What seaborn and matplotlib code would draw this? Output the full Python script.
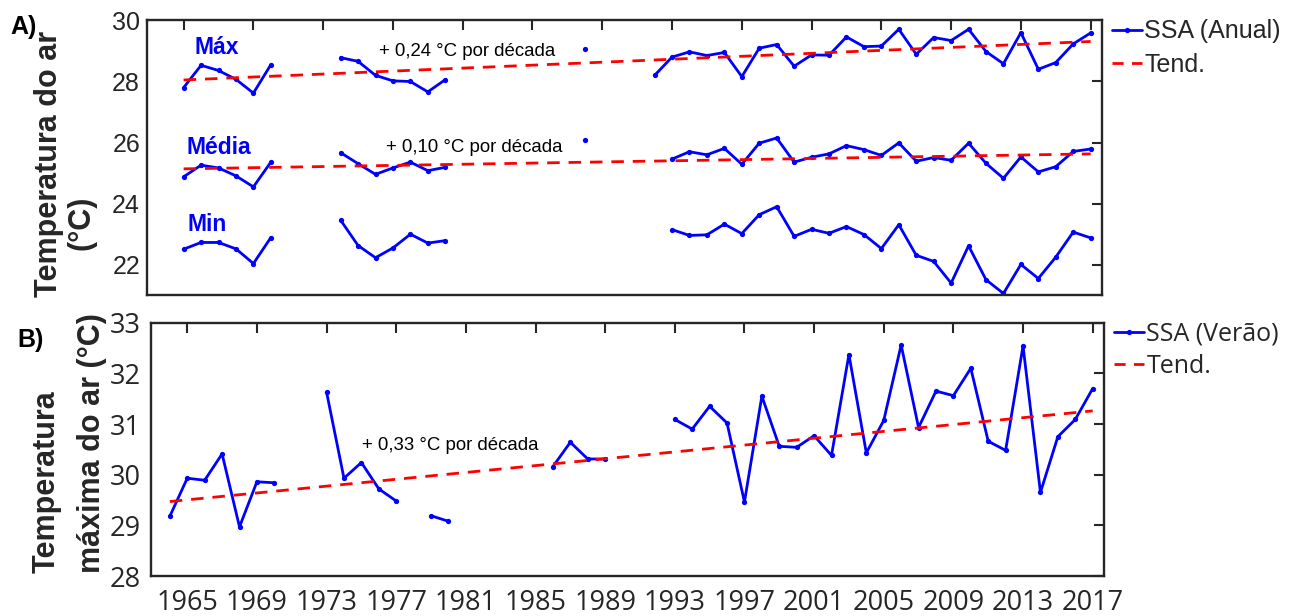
import numpy as np
import pandas as pd
import matplotlib
matplotlib.use("Agg")
import matplotlib.pyplot as plt
from matplotlib.lines import Line2D
import seaborn as sns

nan = np.nan

# ---------------- Data ----------------
years_a = list(range(1965, 2018))
max_anual = [27.80, 28.53, 28.36, 28.07, 27.62, 28.55, nan, nan, nan,
             28.78, 28.66, 28.20, 28.02, 28.00, 27.66, 28.06,
             nan, nan, nan, nan, nan, nan, nan, 29.06, nan, nan, nan,
             28.20, 28.80, 28.97, 28.85, 28.95, 28.16, 29.09, 29.21, 28.50,
             28.87, 28.86, 29.46, 29.14, 29.16, 29.71, 28.89, 29.44, 29.34,
             29.71, 28.98, 28.58, 29.60, 28.40, 28.62, 29.23, 29.59]
med_anual = [24.88, 25.26, 25.17, 24.91, 24.55, 25.36, nan, nan, nan,
             25.67, 25.31, 24.96, 25.17, 25.36, 25.08, 25.19,
             nan, nan, nan, nan, nan, nan, nan, 26.09, nan, nan, nan,
             nan, 25.46, 25.70, 25.60, 25.81, 25.29, 25.98, 26.15, 25.36,
             25.52, 25.63, 25.90, 25.77, 25.58, 25.99, 25.39, 25.51, 25.42,
             25.98, 25.32, 24.83, 25.53, 25.04, 25.21, 25.71, 25.79]
min_anual = [22.51, 22.73, 22.73, 22.52, 22.04, 22.89, nan, nan, nan,
             23.46, 22.63, 22.23, 22.55, 23.00, 22.71, 22.79,
             nan, nan, nan, nan, nan, nan, nan, nan, nan, nan, nan,
             nan, 23.15, 22.96, 22.98, 23.33, 23.02, 23.64, 23.90, 22.93,
             23.16, 23.03, 23.25, 22.99, 22.53, 23.31, 22.31, 22.11, 21.40,
             22.62, 21.51, 21.06, 22.01, 21.55, 22.25, 23.07, 22.88]

years_b = list(range(1964, 2018))
max_verao = [29.18, 29.93, 29.89, 30.41, 28.97, 29.86, 29.84, nan, nan,
             31.63, 29.93, 30.24, 29.72, 29.48, nan, 29.19, 29.08,
             nan, nan, nan, nan, nan, 30.16, 30.64, 30.31, 30.31,
             nan, nan, nan,
             31.09, 30.90, 31.35, 31.02, 29.46, 31.55, 30.56, 30.54, 30.77,
             30.38, 32.37, 30.43, 31.07, 32.56, 30.93, 31.65, 31.56, 32.10,
             30.66, 30.48, 32.54, 29.65, 30.75, 31.09, 31.70]

trend_years_a = [1965, 2017]
trend_max_a = [28.05, 29.31]
trend_med_a = [25.14, 25.63]
trend_years_b = [1964, 2017]
trend_b = [29.47, 31.26]

series_labels = ["Máx", "Média", "Min"]
trend_texts_a = ["+ 0,24 °C por década", "+ 0,10 °C por década"]
trend_text_b = "+ 0,33 °C por década"
legend_a = ["SSA (Anual)", "Tend."]
legend_b = ["SSA (Verão)", "Tend."]
xticks = list(range(1965, 2018, 4))

# ---------------- Style ----------------
sns.set_style("white")
plt.rcParams["font.family"] = ["Liberation Sans", "DejaVu Sans"]

BLUE = "#0000FF"
RED = "#FF0000"
DARK = "#262626"
W, H = 1294, 616

fig = plt.figure(figsize=(W / 100, H / 100), dpi=100)
ax1 = fig.add_axes([147 / W, 1 - 295.3 / H, (1102 - 147) / W, (295.3 - 20.4) / H])
ax2 = fig.add_axes([150.7 / W, 1 - 576 / H, (1104 - 150.7) / W, (576 - 322.7) / H])


def to_df(years, vals):
    df = pd.DataFrame({"year": years, "val": vals})
    df["seg"] = df["val"].isna().cumsum()
    return df.dropna()


line_kw = dict(color=BLUE, lw=2.0, marker="o", markersize=3.8,
               markeredgewidth=0, estimator=None, units="seg",
               sort=False, legend=False)
trend_kw = dict(color=RED, lw=2.0, linestyle=(0, (4.5, 3.2)), legend=False)

for vals in (max_anual, med_anual, min_anual):
    sns.lineplot(data=to_df(years_a, vals), x="year", y="val", ax=ax1, **line_kw)
sns.lineplot(x=trend_years_a, y=trend_max_a, ax=ax1, **trend_kw)
sns.lineplot(x=trend_years_a, y=trend_med_a, ax=ax1, **trend_kw)

sns.lineplot(data=to_df(years_b, max_verao), x="year", y="val", ax=ax2, **line_kw)
sns.lineplot(x=trend_years_b, y=trend_b, ax=ax2, **trend_kw)

# axes formatting
for ax in (ax1, ax2):
    ax.set_xlim(1962.9, 2017.65)
    ax.set_xticks(xticks)
    ax.set_xlabel("")
    ax.set_ylabel("")
    for s in ax.spines.values():
        s.set_visible(True)
        s.set_color(DARK)
        s.set_linewidth(1.7)
    ax.tick_params(direction="in", top=True, right=True, length=7,
                   width=1.5, color=DARK, labelcolor=DARK)

ax1.set_ylim(21.0, 30.0)
ax1.set_yticks([22, 24, 26, 28, 30])
ax1.tick_params(axis="x", labelbottom=False)
ax1.tick_params(axis="y", pad=5)
for lab in ax1.get_yticklabels():
    lab.set_fontsize(18)
    lab.set_family("Liberation Sans")

ax2.set_ylim(28, 33)
ax2.set_yticks([28, 29, 30, 31, 32, 33])
ax2.tick_params(axis="y", pad=7)
ax2.tick_params(axis="x", pad=9)
for lab in ax2.get_yticklabels() + ax2.get_xticklabels():
    lab.set_fontsize(19.5)
    lab.set_family("Open Sans")
    lab.set_color(DARK)

# series labels in panel A
label_pos = [(1965.6, 28.90), (1965.15, 25.61), (1965.2, 23.11)]
for txt, (x, y) in zip(series_labels, label_pos):
    ax1.text(x, y, txt, color=BLUE, fontsize=16.5, fontweight="bold",
             ha="left", va="baseline")

ax1.text(1976.2, 28.85, trend_texts_a[0], fontsize=13.4, color="black",
         ha="left", va="baseline")
ax1.text(1976.6, 25.70, trend_texts_a[1], fontsize=13.4, color="black",
         ha="left", va="baseline")
ax2.text(1975.06, 30.48, trend_text_b, fontsize=13.4, color="black",
         ha="left", va="baseline")

# legends
h_ssa = Line2D([], [], color=BLUE, lw=2.0, marker="o", markersize=3.8,
               markeredgewidth=0)
h_tend = Line2D([], [], color=RED, lw=2.0, linestyle=(0, (4.0, 3.0)))
ax1.legend([h_ssa, h_tend], legend_a, loc="upper left",
           bbox_to_anchor=(1.0, 1.04), frameon=False, handlelength=1.2,
           handletextpad=0.1, labelspacing=0.38, borderaxespad=0.0,
           prop={"family": "Liberation Sans", "size": 18})
ax2.legend([h_ssa, h_tend], legend_b, loc="upper left",
           bbox_to_anchor=(1.0, 1.045), frameon=False, handlelength=1.2,
           handletextpad=0.1, labelspacing=0.3, borderaxespad=0.0,
           prop={"family": "Open Sans", "size": 18})

# y labels and panel labels (pixel positions converted to figure fraction)
def ftext(xp, yp, s, **kw):
    fig.text(xp / W, 1 - yp / H, s, **kw)

ylab_kw = dict(rotation=90, rotation_mode="anchor", ha="left", va="baseline",
               fontsize=22, fontweight="bold", color=DARK)
ftext(57, 297, "Temperatura do ar", **ylab_kw)
ftext(90, 250, "(°C)", **ylab_kw)
ftext(55, 573, "Temperatura", **ylab_kw)
ftext(100, 573, "máxima do ar (°C)", **ylab_kw)

ftext(10, 34, "A)", fontsize=18, fontweight="bold", color="black")
ftext(17, 347, "B)", fontsize=18, fontweight="bold", color="black")

fig.savefig("out.png", dpi=100)
